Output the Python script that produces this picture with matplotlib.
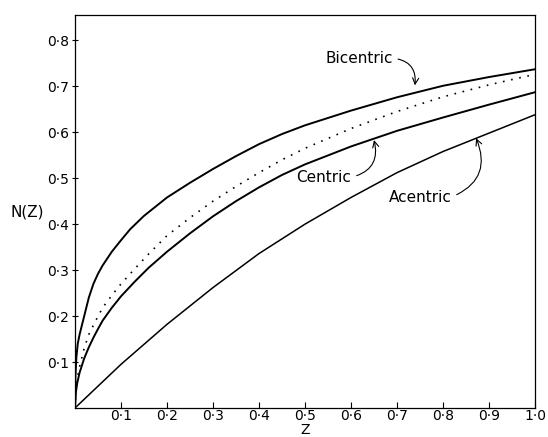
import matplotlib
matplotlib.use("Agg")
import matplotlib.pyplot as plt

# values
z_bi = [0, 0.001, 0.003, 0.006, 0.01, 0.02, 0.03, 0.04, 0.05, 0.06, 0.08, 0.1, 0.12,
        0.15, 0.2, 0.25, 0.3, 0.35, 0.4, 0.45, 0.5, 0.6, 0.7, 0.8, 0.9, 1.0]
n_bi = [0, 0.07, 0.11, 0.14, 0.16, 0.2, 0.24, 0.27, 0.292, 0.31, 0.34, 0.365, 0.389,
        0.418, 0.458, 0.49, 0.52, 0.548, 0.574, 0.596, 0.615, 0.647, 0.676, 0.701,
        0.72, 0.737]

z_dot = [0, 0.002, 0.005, 0.01, 0.02, 0.03, 0.045, 0.06, 0.08, 0.1, 0.13, 0.16, 0.2,
         0.25, 0.3, 0.35, 0.4, 0.45, 0.5, 0.6, 0.7, 0.8, 0.9, 1.0]
n_dot = [0, 0.04, 0.065, 0.09, 0.13, 0.16, 0.19, 0.218, 0.245, 0.27, 0.303, 0.335,
         0.375, 0.414, 0.45, 0.482, 0.512, 0.54, 0.565, 0.608, 0.645, 0.677, 0.703,
         0.726]

z_cen = [0, 0.002, 0.005, 0.01, 0.02, 0.03, 0.04, 0.05, 0.06, 0.08, 0.1, 0.13, 0.16,
         0.2, 0.25, 0.3, 0.35, 0.4, 0.45, 0.5, 0.6, 0.7, 0.8, 0.9, 1.0]
n_cen = [0, 0.035, 0.055, 0.077, 0.108, 0.132, 0.153, 0.172, 0.19, 0.218, 0.243,
         0.275, 0.305, 0.34, 0.38, 0.417, 0.45, 0.48, 0.507, 0.53, 0.569, 0.603,
         0.632, 0.66, 0.687]

z_ac = [0, 0.1, 0.2, 0.3, 0.4, 0.5, 0.6, 0.7, 0.8, 0.9, 1.0]
n_ac = [0, 0.095, 0.182, 0.262, 0.336, 0.40, 0.458, 0.512, 0.558, 0.598, 0.638]

xticks = [0.1, 0.2, 0.3, 0.4, 0.5, 0.6, 0.7, 0.8, 0.9, 1.0]
yticks = [0.1, 0.2, 0.3, 0.4, 0.5, 0.6, 0.7, 0.8]

fig = plt.figure(figsize=(5.48, 4.37), dpi=100)
ax = fig.add_axes([75 / 548, 29 / 437, 460 / 548, 393 / 437])

ax.plot(z_bi, n_bi, color='black', lw=1.4)
ax.plot(z_dot, n_dot, color='black', lw=1.2, linestyle=(0, (1, 4)))
ax.plot(z_cen, n_cen, color='black', lw=1.4)
ax.plot(z_ac, n_ac, color='black', lw=1.1)

ax.set_xlim(0, 1.0)
ax.set_ylim(0, 0.855)
ax.set_xticks(xticks)
ax.set_xticklabels([f"{t:.1f}".replace('.', '\u00b7') for t in xticks])
ax.set_yticks(yticks)
ax.set_yticklabels([f"{t:.1f}".replace('.', '\u00b7') for t in yticks])
ax.tick_params(axis='x', direction='in', length=4, width=0.8, labelsize=10, pad=1)
ax.tick_params(axis='y', direction='inout', length=4, width=0.8, labelsize=10, pad=2)
for s in ax.spines.values():
    s.set_linewidth(0.9)

fig.text(305 / 548, 1 - 430 / 437, 'Z', ha='center', va='center', fontsize=10)
fig.text(27 / 548, 1 - 212 / 437, 'N(Z)', ha='center', va='center', fontsize=11)

arrow = dict(arrowstyle='->', color='black', lw=0.8, relpos=(1.0, 0.5),
             shrinkA=2, shrinkB=0)
ax.annotate('Bicentric', xy=(0.739, 0.702), xytext=(0.617, 0.761),
            ha='center', va='center', fontsize=11,
            arrowprops=dict(arrow, connectionstyle='arc3,rad=-0.5'))
ax.annotate('Centric', xy=(0.65, 0.583), xytext=(0.541, 0.502),
            ha='center', va='center', fontsize=11,
            arrowprops=dict(arrow, connectionstyle='arc3,rad=0.5'))
ax.annotate('Acentric', xy=(0.872, 0.587), xytext=(0.75, 0.459),
            ha='center', va='center', fontsize=11,
            arrowprops=dict(arrow, connectionstyle='arc3,rad=0.5'))

fig.savefig('out.png', dpi=100)
